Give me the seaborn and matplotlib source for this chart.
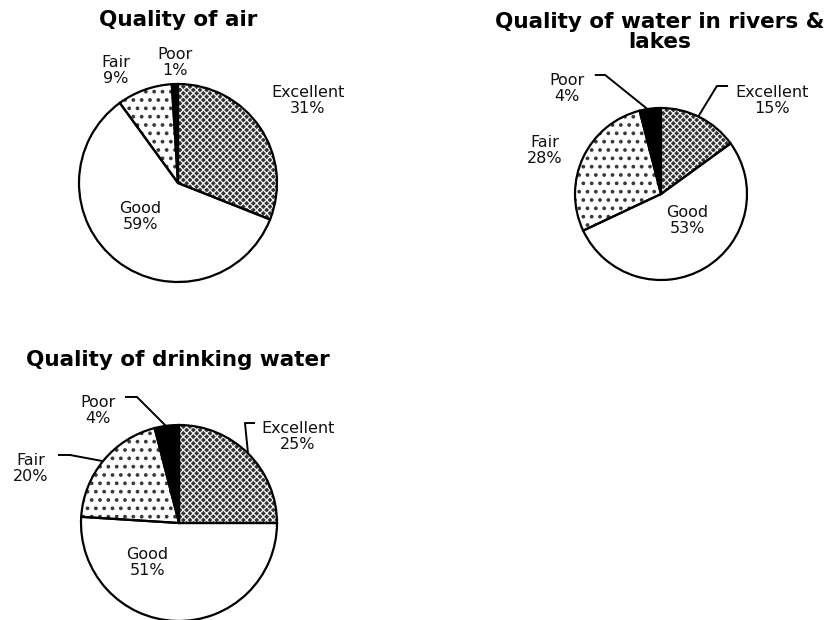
import matplotlib
matplotlib.use("Agg")
import matplotlib.pyplot as plt
import seaborn as sns

# Survey results: share of respondents rating each aspect of the environment
categories = ["Excellent", "Good", "Fair", "Poor"]
air = [31, 59, 9, 1]
rivers = [15, 53, 28, 4]
drinking = [25, 51, 20, 4]
titles = ["Quality of air", "Quality of water in rivers &\nlakes", "Quality of drinking water"]

sns.set_theme(style="white")
plt.rcParams["font.family"] = ["DejaVu Sans"]

W, H = 825, 620
fig = plt.figure(figsize=(W / 100, H / 100), dpi=100)
fig.patch.set_facecolor("white")

# Fill style per category
styles = {
    "Excellent": dict(facecolor="#333333", hatch="xxxxx", edgecolor="#f4f4f4", lw=0.9),
    "Good": dict(facecolor="white", hatch=None, edgecolor="white", lw=1.0),
    "Fair": dict(facecolor="white", hatch="..", edgecolor="#3a3a3a", lw=1.5),
    "Poor": dict(facecolor="black", hatch=None, edgecolor="black", lw=1.0),
}


def pie_axes(cx, cy, r):
    """Axes whose [-1, 1] square maps onto a circle centred at pixel (cx, cy)."""
    return fig.add_axes([(cx - r) / W, (H - cy - r) / H, 2 * r / W, 2 * r / H])


def draw_pie(ax, values, label_pos, leaders):
    wedges, _ = ax.pie(values, startangle=90, counterclock=False, radius=1,
                       wedgeprops=dict(linewidth=0))
    for w, cat in zip(wedges, categories):
        st = styles[cat]
        w.set_facecolor(st["facecolor"])
        w.set_edgecolor(st["edgecolor"])
        if st["hatch"]:
            w.set_hatch(st["hatch"])
            w.set_hatch_linewidth(st["lw"])
        w.set_clip_on(False)
    outline, _ = ax.pie(values, startangle=90, counterclock=False, radius=1,
                        wedgeprops=dict(fill=False, edgecolor="black", linewidth=1.6))
    for w in outline:
        w.set_clip_on(False)
    ax.set_xlim(-1, 1)
    ax.set_ylim(-1, 1)
    ax.set_aspect("equal")
    ax.axis("off")
    for cat, v, (x, y) in zip(categories, values, label_pos):
        ax.text(x, y, f"{cat}\n{v}%", ha="center", va="center", fontsize=11.5,
                color="#111111", linespacing=1.1, clip_on=False)
    for xs, ys in leaders:
        ax.plot(xs, ys, color="black", linewidth=1.4, clip_on=False,
                solid_capstyle="butt")


# Quality of air
ax1 = pie_axes(178, 183, 99)
draw_pie(ax1, air,
         [(1.31, 0.83), (-0.38, -0.34), (-0.63, 1.14), (-0.03, 1.22)],
         [])

# Quality of water in rivers & lakes
ax2 = pie_axes(661, 194, 86)
draw_pie(ax2, rivers,
         [(1.29, 1.09), (0.31, -0.31), (-1.35, 0.51), (-1.09, 1.23)],
         [([0.78, 0.65, 0.43], [1.256, 1.256, 0.895]),
          ([-0.77, -0.65, -0.16], [1.384, 1.384, 0.99])])

# Quality of drinking water
ax3 = pie_axes(179, 523, 98)
draw_pie(ax3, drinking,
         [(1.21, 0.88), (-0.32, -0.40), (-1.51, 0.56), (-0.83, 1.15)],
         [([0.776, 0.673, 0.704], [1.02, 1.02, 0.714]),
          ([-1.235, -1.112, -0.786], [0.694, 0.694, 0.633]),
          ([-0.551, -0.429, -0.133], [1.286, 1.286, 0.99])])

# Panel titles
for t, (x, y) in zip(titles, [(178, 20), (660, 32), (178, 360)]):
    fig.text(x / W, 1 - y / H, t, ha="center", va="center", fontsize=15.5,
             fontweight="bold", color="black", linespacing=1.0)

fig.savefig("out.png", dpi=100, facecolor="white")
